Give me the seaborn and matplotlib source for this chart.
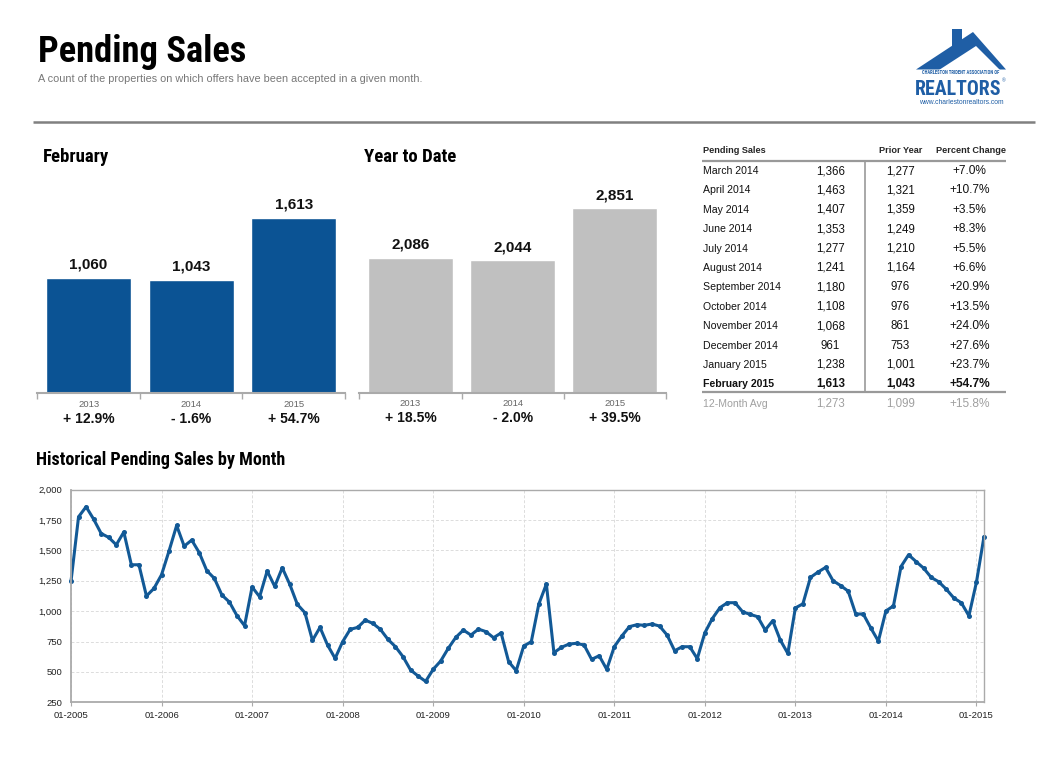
import numpy as np
import pandas as pd
import matplotlib
matplotlib.use("Agg")
import matplotlib.pyplot as plt
import seaborn as sns
from matplotlib.patches import Polygon, Rectangle
from matplotlib.ticker import FuncFormatter

# ---------------- data ----------------
feb_years = ["2013", "2014", "2015"]
feb_values = [1060, 1043, 1613]
feb_changes = ["+ 12.9%", "- 1.6%", "+ 54.7%"]

ytd_years = ["2013", "2014", "2015"]
ytd_values = [2086, 2044, 2851]
ytd_changes = ["+ 18.5%", "- 2.0%", "+ 39.5%"]

table_months = ["March 2014", "April 2014", "May 2014", "June 2014", "July 2014",
                "August 2014", "September 2014", "October 2014", "November 2014",
                "December 2014", "January 2015", "February 2015"]
table_current = [1366, 1463, 1407, 1353, 1277, 1241, 1180, 1108, 1068, 961, 1238, 1613]
table_prior = [1277, 1321, 1359, 1249, 1210, 1164, 976, 976, 861, 753, 1001, 1043]
table_pct = [7.0, 10.7, 3.5, 8.3, 5.5, 6.6, 20.9, 13.5, 24.0, 27.6, 23.7, 54.7]
avg_label = "12-Month Avg"
avg_current = 1273
avg_prior = 1099
avg_pct = 15.8

hist_values = [
    1245, 1775, 1858, 1756, 1638, 1606, 1545, 1650, 1381, 1381, 1124, 1187,   # 2005
    1299, 1496, 1704, 1534, 1584, 1480, 1332, 1269, 1132, 1074, 962, 880,     # 2006
    1198, 1118, 1330, 1203, 1356, 1219, 1055, 987, 759, 866, 721, 611,        # 2007
    748, 850, 866, 926, 899, 850, 768, 707, 625, 516, 466, 422,               # 2008
    521, 590, 694, 784, 844, 803, 852, 831, 781, 820, 584, 510,               # 2009
    713, 748, 1058, 1222, 658, 702, 729, 735, 721, 603, 633, 521,             # 2010
    707, 795, 872, 888, 883, 894, 877, 803, 674, 707, 707, 609,               # 2011
    821, 939, 1028, 1069, 1069, 995, 973, 954, 844, 921, 762, 652,            # 2012
    1026, 1060, 1277, 1321, 1359, 1249, 1210, 1164, 976, 976, 861, 753,       # 2013
    1001, 1043, 1366, 1463, 1407, 1353, 1277, 1241, 1180, 1108, 1068, 961,    # 2014
    1238, 1613,                                                               # 2015
]
hist_tick_labels = ["01-2005", "01-2006", "01-2007", "01-2008", "01-2009", "01-2010",
                    "01-2011", "01-2012", "01-2013", "01-2014", "01-2015"]
y_ticks = [250, 500, 750, 1000, 1250, 1500, 1750, 2000]

# ---------------- style ----------------
sns.set_theme(style="white")
plt.rcParams["font.family"] = ["Liberation Sans", "DejaVu Sans"]
NARROW = ["Liberation Sans Narrow", "Roboto Condensed", "Archivo Narrow", "DejaVu Sans"]

BLUE = "#0b5394"
LINE_BLUE = "#125996"
GRAY_BAR = "#c0c0c0"
LOGO_BLUE = "#1f5ea5"

W, H = 1046, 759
fig = plt.figure(figsize=(W / 100, H / 100), dpi=100)
fig.patch.set_facecolor("white")


def rect(l, t, r, b):
    return [l / W, 1 - b / H, (r - l) / W, (b - t) / H]


def heading(x, y, s, size, **kw):
    return ov.text(x, y, s, fontsize=size, fontweight="bold", family=NARROW,
                   fontstretch="condensed", va="baseline", ha="left", color="#000000", **kw)


# overlay axes in pixel coordinates
ov = fig.add_axes([0, 0, 1, 1], zorder=5)
ov.set_xlim(0, W)
ov.set_ylim(H, 0)
ov.axis("off")
ov.patch.set_alpha(0)

# title + subtitle
heading(38, 62, "Pending Sales", 26.3)
ov.text(38, 82, "A count of the properties on which offers have been accepted in a given month.",
        fontsize=7.85, color="#777777", va="baseline", ha="left")
ov.plot([33, 1035], [122, 122], color="#808080", lw=1.8, solid_capstyle="butt")

# logo
ov.add_patch(Polygon([(916, 69.5), (973, 32), (1006, 69.5)], closed=True, color=LOGO_BLUE, lw=0))
ov.add_patch(Polygon([(939, 70), (976, 46), (1000, 70)], closed=True, color="white", lw=0))
ov.add_patch(Rectangle((951.5, 29), 10.5, 22, color=LOGO_BLUE, lw=0))
ov.text(961, 74.5, "CHARLESTON TRIDENT ASSOCIATION OF", fontsize=3.3, fontweight="bold",
        family=NARROW, fontstretch="condensed", color=LOGO_BLUE, ha="center", va="baseline")
ov.text(915, 95, "REALTORS", fontsize=14.3, fontweight="bold", family=NARROW,
        fontstretch="condensed", color=LOGO_BLUE, ha="left", va="baseline")
ov.text(1002, 80.5, "®", fontsize=3.5, color=LOGO_BLUE, ha="left", va="center")
ov.text(961, 104, "www.charlestonrealtors.com", fontsize=4.9, color=LOGO_BLUE,
        ha="center", va="baseline")

# section headings
heading(43, 161.7, "February", 13.5)
heading(364, 161.7, "Year to Date", 13.5)
heading(36, 465, "Historical Pending Sales by Month", 13.1)


# ---------------- bar charts ----------------
def bar_panel(box, years, values, changes, color, ymax):
    ax = fig.add_axes(rect(*box))
    df = pd.DataFrame({"year": years, "value": values})
    sns.barplot(data=df, x="year", y="value", color=color, saturation=1, width=0.83, ax=ax)
    ax.set_xlim(-0.5, len(years) - 0.5)
    ax.set_ylim(0, ymax)
    for s in ["top", "left", "right"]:
        ax.spines[s].set_visible(False)
    ax.spines["bottom"].set_color("#aaaaaa")
    ax.spines["bottom"].set_linewidth(1.5)
    ax.set_xticks(np.arange(-0.5, len(years), 1.0))
    ax.set_xticklabels([])
    ax.tick_params(axis="x", length=4, width=1, color="#aaaaaa", direction="out", bottom=True)
    ax.set_yticks([])
    ax.set_xlabel("")
    ax.set_ylabel("")
    ax.patch.set_alpha(0)
    for i, (v, yr, ch) in enumerate(zip(values, years, changes)):
        ax.annotate(f"{v:,}", xy=(i, v), xytext=(0, 6.3), textcoords="offset points",
                    ha="center", va="baseline", fontsize=11, fontweight="bold", color="#111111")
        ax.annotate(yr, xy=(i, 0), xytext=(0, -9.9), textcoords="offset points",
                    ha="center", va="baseline", fontsize=6.8, color="#666666",
                    annotation_clip=False)
        ax.annotate(ch, xy=(i, 0), xytext=(0, -21.6), textcoords="offset points",
                    ha="center", va="baseline", fontsize=10, fontweight="bold", color="#111111",
                    annotation_clip=False)
    return ax


bar_panel((37.3, 175, 345, 393), feb_years, feb_values, feb_changes, BLUE, 2005)
bar_panel((359.3, 175, 666, 392.5), ytd_years, ytd_values, ytd_changes, GRAY_BAR, 3366)

# ---------------- table ----------------
c_label, c_cur, c_prior, c_pct = 703, 830.5, 900.5, 969.5
ov.text(c_label, 153.3, "Pending Sales", fontsize=6.6, fontweight="bold", va="baseline", ha="left")
ov.text(901, 153.3, "Prior Year", fontsize=6.6, fontweight="bold", va="baseline", ha="center")
ov.text(971, 153.3, "Percent Change", fontsize=6.6, fontweight="bold", va="baseline", ha="center")
ov.plot([702, 1006], [161, 161], color="#999999", lw=1.6, solid_capstyle="butt")
ov.plot([865, 865], [162, 392], color="#999999", lw=1.2, solid_capstyle="butt")
ov.plot([702, 1006], [392.3, 392.3], color="#999999", lw=1.6, solid_capstyle="butt")
row_step = (387.3 - 174) / 11
LBL, NUM, PCT = 7.6, 8.3, 8.6
for i, (m, cu, pr, pc) in enumerate(zip(table_months, table_current, table_prior, table_pct)):
    y = 174 + i * row_step
    fw = "bold" if i == len(table_months) - 1 else "normal"
    ov.text(c_label, y, m, fontsize=LBL, va="baseline", ha="left", fontweight=fw, color="#111111")
    ov.text(c_cur, y, f"{cu:,}", fontsize=NUM, va="baseline", ha="center", fontweight=fw, color="#111111")
    ov.text(c_prior, y, f"{pr:,}", fontsize=NUM, va="baseline", ha="center", fontweight=fw, color="#111111")
    ov.text(c_pct, y, f"+{pc:.1f}%", fontsize=PCT, va="baseline", ha="center", fontweight=fw, color="#111111")
ya = 406.7
ov.text(c_label, ya, avg_label, fontsize=LBL, va="baseline", ha="left", color="#a0a0a0")
ov.text(c_cur, ya, f"{avg_current:,}", fontsize=NUM, va="baseline", ha="center", color="#a0a0a0")
ov.text(c_prior, ya, f"{avg_prior:,}", fontsize=NUM, va="baseline", ha="center", color="#a0a0a0")
ov.text(c_pct, ya, f"+{avg_pct:.1f}%", fontsize=PCT, va="baseline", ha="center", color="#a0a0a0")

# ---------------- historical line chart ----------------
ax3 = fig.add_axes(rect(71, 489.5, 984, 702.3))
hist = pd.DataFrame({"month": np.arange(len(hist_values)), "pending": hist_values})
sns.lineplot(data=hist, x="month", y="pending", color=LINE_BLUE, lw=2.2, marker="o",
             markersize=3.6, markeredgewidth=0, ax=ax3, clip_on=False)
ax3.set_xlim(0, len(hist_values) - 1)
ax3.set_ylim(min(y_ticks), max(y_ticks))
ax3.set_xticks(np.arange(0, len(hist_values), 12))
ax3.set_xticklabels(hist_tick_labels)
ax3.set_yticks(y_ticks)
ax3.yaxis.set_major_formatter(FuncFormatter(lambda v, p: f"{int(v):,}"))
ax3.grid(True, color="#dcdcdc", ls=(0, (3, 2)), lw=0.7)
ax3.set_axisbelow(True)
for s in ax3.spines.values():
    s.set_color("#aaaaaa")
    s.set_linewidth(1.0)
ax3.spines["left"].set_linewidth(1.3)
ax3.spines["bottom"].set_linewidth(1.3)
ax3.tick_params(axis="y", length=0, pad=6.5, labelsize=6.8, labelcolor="#222222")
ax3.tick_params(axis="x", length=3, width=0.8, color="#aaaaaa", pad=3, labelsize=6.8,
                labelcolor="#222222", bottom=True)
ax3.set_xlabel("")
ax3.set_ylabel("")

fig.savefig("out.png", dpi=100, facecolor="white")
